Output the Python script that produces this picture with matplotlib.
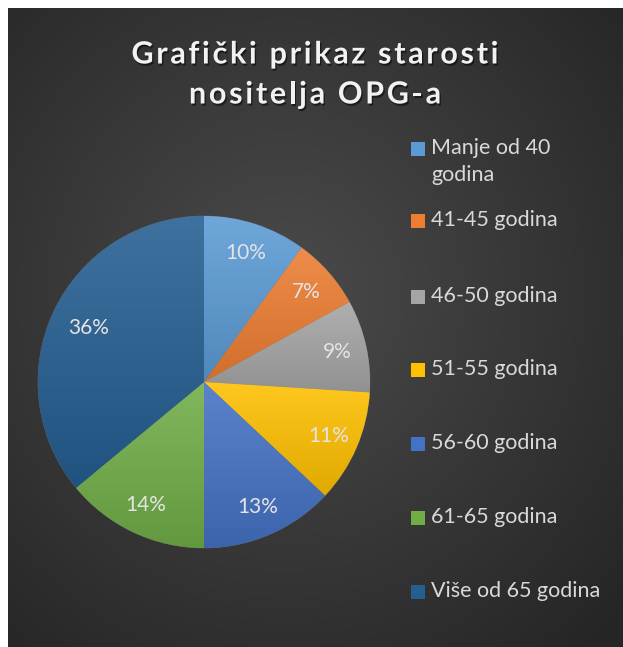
import numpy as np
import matplotlib
matplotlib.use("Agg")
import matplotlib.pyplot as plt
from matplotlib.colors import LinearSegmentedColormap, to_rgb
from matplotlib.patches import Rectangle
from matplotlib.font_manager import FontProperties
import matplotlib.patheffects as pe

plt.rcParams['font.family'] = ['Lato', 'DejaVu Sans']

# podaci
kategorije = ['Manje od 40\ngodina', '41-45 godina', '46-50 godina', '51-55 godina',
              '56-60 godina', '61-65 godina', 'Više od 65 godina']
udjeli = [10, 7, 9, 11, 13, 14, 36]
boje = ['#5B9BD5', '#ED7D31', '#A5A5A5', '#FFC000', '#4472C4', '#70AD47', '#255E91']
naslov = ['Grafički prikaz starosti', 'nositelja OPG-a']

W, H = 623, 647
fig = plt.figure(figsize=(W / 100, H / 100), dpi=100, facecolor='white')

def px(x, y):
    return x / W, 1 - y / H

# tamna pozadina s radijalnim prijelazom
bg = fig.add_axes([8 / W, 0, 1 - 8 / W, 1 - 8 / H])
bg.set_axis_off()
yy, xx = np.mgrid[0:1:300j, 0:1:300j]
r = np.sqrt((xx - 0.45) ** 2 + (yy - 0.45) ** 2) / 0.75
r = np.clip(r, 0, 1)
c_in, c_out = np.array(to_rgb('#4b4b4b')), np.array(to_rgb('#252525'))
img = c_in[None, None, :] * (1 - r[..., None]) + c_out[None, None, :] * r[..., None]
bg.imshow(img, extent=[0, 1, 0, 1], aspect='auto')
bg.set_xlim(0, 1)
bg.set_ylim(0, 1)

# pita
x0, y0 = px(38, 548)
ax = fig.add_axes([x0, y0, 332 / W, 332 / H])
wedges, _ = ax.pie(udjeli, colors=boje, startangle=90, counterclock=False,
                   radius=1, wedgeprops=dict(edgecolor='#6a6a6a', linewidth=0.4))
ax.set_aspect('auto')
ax.set_axis_off()

grad = np.linspace(0, 1, 256)[:, None]
for w, c in zip(wedges, boje):
    base = np.array(to_rgb(c))
    light = base + (1 - base) * 0.12
    dark = base * 0.88
    cmap = LinearSegmentedColormap.from_list('g', [dark, light])
    b = w.get_path().get_extents(w.get_patch_transform())
    im = ax.imshow(grad, cmap=cmap, extent=[b.x0, b.x1, b.y0, b.y1],
                   origin='lower', aspect='auto', zorder=w.get_zorder())
    im.set_clip_path(w)

# oznake postotaka
kutevi = 90 - (np.cumsum(udjeli) - np.array(udjeli) / 2) * 3.6
for v, k in zip(udjeli, kutevi):
    rr = 0.82 if v < 30 else 0.77
    ax.text(rr * np.cos(np.radians(k)), rr * np.sin(np.radians(k)), f'{v}%',
            ha='center', va='center', color='#e4e4e4', fontsize=15, zorder=5)

ax.set_xlim(-1, 1)
ax.set_ylim(-1, 1)

# naslov, razmaknuta slova
renderer = fig.canvas.get_renderer()
fp = FontProperties(family=['Lato', 'DejaVu Sans'], weight='bold', size=22)
razmak = 2.7
sjena = [pe.withSimplePatchShadow(offset=(1, -1.5), alpha=0.5, shadow_rgbFace='black')]
for red, yc in zip(naslov, [52, 92]):
    sirine = [renderer.get_text_width_height_descent(ch, fp, ismath=False)[0] for ch in red]
    ukupno = sum(sirine) + razmak * (len(red) - 1)
    x = 315 - ukupno / 2
    for ch, s in zip(red, sirine):
        fx, fy = px(x, yc)
        fig.text(fx, fy, ch, ha='left', va='center_baseline', color='#f2f2f2',
                 fontproperties=fp, path_effects=sjena)
        x += s + razmak

# legenda
leg_y = [147, 219, 295, 368, 442, 516, 590]
for lab, c, yl in zip(kategorije, boje, leg_y):
    mx, my = px(411, yl + 9)
    fig.patches.append(Rectangle((mx, my), 14 / W, 14 / H, transform=fig.transFigure,
                                 facecolor=c, edgecolor='none'))
    lx, ly = px(431, yl - 9)
    fig.text(lx, ly, lab, ha='left', va='top', color='#d9d9d9', fontsize=15.5,
             linespacing=1.45)

fig.savefig('out.png', dpi=100, facecolor='white')
